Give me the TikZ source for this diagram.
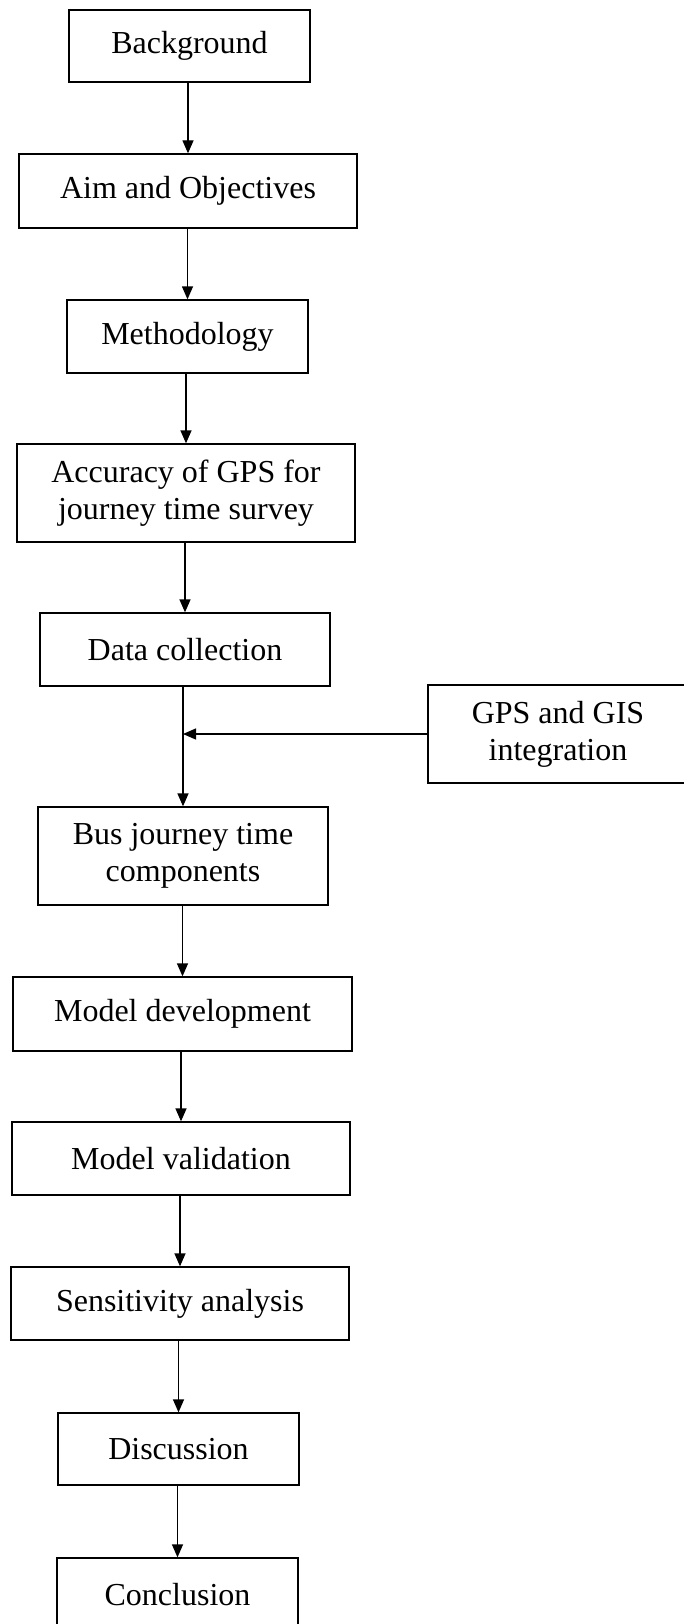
\documentclass[tikz,border=0pt]{standalone}
\usepackage{fontspec}
\setmainfont{Liberation Serif}
\usetikzlibrary{arrows.meta}
\tikzset{
  box/.style={draw, line width=1.3pt, rectangle, inner sep=0pt, align=center,
    font=\fontsize{32}{37}\selectfont},
  arr/.style={line width=1.3pt, -{Triangle[width=11pt,length=13pt]}},
  link/.style={line width=1.3pt}
}
\begin{document}
\begin{tikzpicture}[x=1pt,y=-1pt]
\useasboundingbox (0,0) rectangle (684,1624);
\clip (0,0) rectangle (684,1624);
\node[box, minimum width=241pt, minimum height=72pt] (bg) at (189.5,46) {Background};
\node[box, minimum width=338pt, minimum height=74pt] (aim) at (188,191) {Aim and Objectives};
\node[box, minimum width=241pt, minimum height=73pt] (meth) at (187.5,336.5) {Methodology};
\node[box, minimum width=338pt, minimum height=98pt] (acc) at (186,493) {Accuracy of GPS for\\journey time survey};
\node[box, minimum width=290pt, minimum height=73pt] (dc) at (185,649.5) {Data collection};
\node[box, minimum width=260pt, minimum height=98pt] (gps) at (558,734) {GPS and GIS\\integration};
\node[box, minimum width=290pt, minimum height=98pt] (bus) at (183,856) {Bus journey time\\components};
\node[box, minimum width=339pt, minimum height=74pt] (md) at (182.5,1014) {Model development};
\node[box, minimum width=338pt, minimum height=73pt] (mv) at (181,1158.5) {Model validation};
\node[box, minimum width=338pt, minimum height=73pt] (sa) at (180,1303.5) {Sensitivity analysis};
\node[box, minimum width=241pt, minimum height=72pt] (disc) at (178.5,1449) {Discussion};
\node[box, minimum width=241pt, minimum height=73pt] (conc) at (177.5,1594.5) {Conclusion};
\coordinate (j) at (bus.north |- gps.west);
\draw[arr] (bg.south -| aim.north) -- (aim.north);
\draw[arr] (aim.south -| meth.north) -- (meth.north);
\draw[arr] (meth.south -| acc.north) -- (acc.north);
\draw[arr] (acc.south -| dc.north) -- (dc.north);
\draw[arr] (dc.south -| bus.north) -- (bus.north);
\draw[arr] (gps.west) -- (j);
\draw[arr] (bus.south -| md.north) -- (md.north);
\draw[arr] (md.south -| mv.north) -- (mv.north);
\draw[arr] (mv.south -| sa.north) -- (sa.north);
\draw[arr] (sa.south -| disc.north) -- (disc.north);
\draw[arr] (disc.south -| conc.north) -- (conc.north);
\end{tikzpicture}
\end{document}
